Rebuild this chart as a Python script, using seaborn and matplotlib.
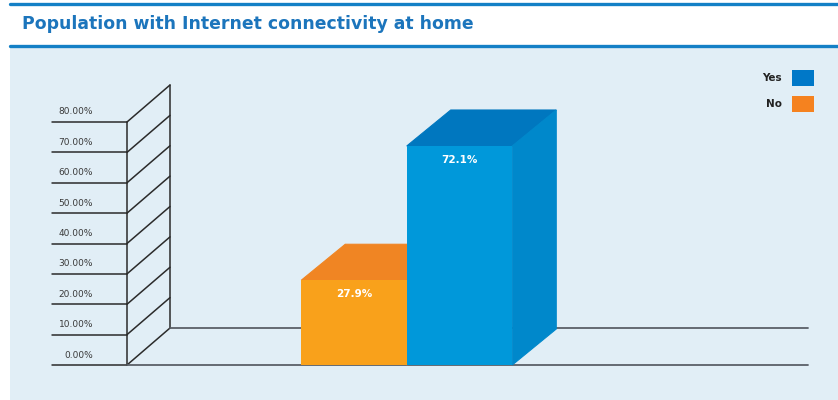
import numpy as np
import matplotlib
matplotlib.use("Agg")
import matplotlib.pyplot as plt
import seaborn as sns
from matplotlib.patches import Polygon, Rectangle

# data
categories = ["No", "Yes"]
values = [27.9, 72.1]
value_labels = ["27.9%", "72.1%"]
tick_values = [0, 10, 20, 30, 40, 50, 60, 70, 80]
tick_labels = ["0.00%", "10.00%", "20.00%", "30.00%", "40.00%",
               "50.00%", "60.00%", "70.00%", "80.00%"]
legend_items = ["Yes", "No"]

front_colors = {"No": "#F9A11B", "Yes": "#0098DA"}
top_colors = {"No": "#F08523", "Yes": "#0077BF"}
side_colors = {"No": "#E8891F", "Yes": "#0088CB"}
legend_colors = {"Yes": "#0078C8", "No": "#F5821F"}

sns.set_theme(style="white")
plt.rcParams['font.family'] = ['DejaVu Sans']

W, H = 838, 400
fig = plt.figure(figsize=(W / 100, H / 100), dpi=100)
fig.patch.set_facecolor("white")

# header lines + panel (figure pixel coords)
def px(x, y):
    return x / W, 1 - y / H

fig.patches.append(Rectangle(px(10, 400), (W - 10) / W, 353 / H, transform=fig.transFigure,
                             facecolor="#E1EEF6", edgecolor="none", zorder=-10))
for yy in (4, 46):
    fig.add_artist(plt.Line2D([10 / W, 1], [1 - yy / H] * 2, color="#1480C6", lw=2.4))
fig.text(22 / W, 1 - 24 / H, "Population with Internet connectivity at home",
         color="#1C75BC", fontsize=12.4, fontweight="bold", va="center", ha="left")

# axes covering the full figure; data units map to pixels
ax = fig.add_axes([0, 0, 1, 1])
ax.patch.set_alpha(0)
ppu_y = 243 / 80.0      # pixels per % point
ppu_x = 105.5           # pixels per category step
x0_px, y0_px = 354, 365

def dx(p):
    return p / ppu_x

def dy(p):
    return p / ppu_y

depth_x, depth_y = dx(44), dy(36)
wall_front = dx(127 - x0_px)
wall_back = wall_front + dx(43)
wall_dy = dy(37)
tick_left = dx(52 - x0_px)
floor_right = dx(808 - x0_px)

line_kw = dict(color="#2B2B2B", lw=1.1, zorder=1)
# wall
ax.plot([wall_front, wall_front], [0, tick_values[-1]], **line_kw)
ax.plot([wall_back, wall_back], [wall_dy, tick_values[-1] + wall_dy], **line_kw)
for v, lab in zip(tick_values, tick_labels):
    ax.plot([tick_left, wall_front], [v, v], **line_kw)
    ax.plot([wall_front, wall_back], [v, v + wall_dy], **line_kw)
    ax.text(dx(93 - x0_px), v + dy(10), lab, ha="right", va="center",
            fontsize=6.5, color="#3A3A3A")
# floor lines
ax.plot([wall_front, floor_right], [0, 0], color="#5A6068", lw=1.3, zorder=1)
ax.plot([wall_back, floor_right], [wall_dy, wall_dy], color="#5A6068", lw=1.3, zorder=1)

# bars (front faces)
sns.barplot(x=categories, y=values, order=categories, hue=categories,
            palette=front_colors, width=1.0, ax=ax, legend=False,
            saturation=1, zorder=3, linewidth=0)
ax.set_xlim(-x0_px / ppu_x, (W - x0_px) / ppu_x)
ax.set_ylim(-(H - y0_px) / ppu_y, y0_px / ppu_y)
ax.set_axis_off()

for i, (cat, bar) in enumerate(zip(categories, ax.patches)):
    x_l = bar.get_x()
    x_r = x_l + bar.get_width()
    h = bar.get_height()
    z = 2.5 if i == 0 else 2.9
    top = Polygon([(x_l, h), (x_r, h), (x_r + depth_x, h + depth_y), (x_l + depth_x, h + depth_y)],
                  closed=True, facecolor=top_colors[cat], edgecolor=top_colors[cat],
                  lw=0.8, zorder=z)
    side = Polygon([(x_r, 0), (x_r + depth_x, depth_y), (x_r + depth_x, h + depth_y), (x_r, h)],
                   closed=True, facecolor=side_colors[cat], edgecolor=side_colors[cat],
                   lw=0.8, zorder=z)
    ax.add_patch(top)
    ax.add_patch(side)
    ax.annotate(value_labels[i], (x_l + bar.get_width() / 2, h), xytext=(0, -10),
                textcoords="offset points", ha="center", va="center",
                color="white", fontsize=7.5, fontweight="bold", zorder=5)

# legend
for j, name in enumerate(legend_items):
    yc = 78 + 26 * j
    fig.patches.append(Rectangle(px(792, yc + 8), 22 / W, 16 / H, transform=fig.transFigure,
                                 facecolor=legend_colors[name], edgecolor="none", zorder=2))
    fig.text(782 / W, 1 - yc / H, name, ha="right", va="center",
             fontsize=7.5, fontweight="bold", color="#222222")

fig.savefig("out.png", dpi=100)
